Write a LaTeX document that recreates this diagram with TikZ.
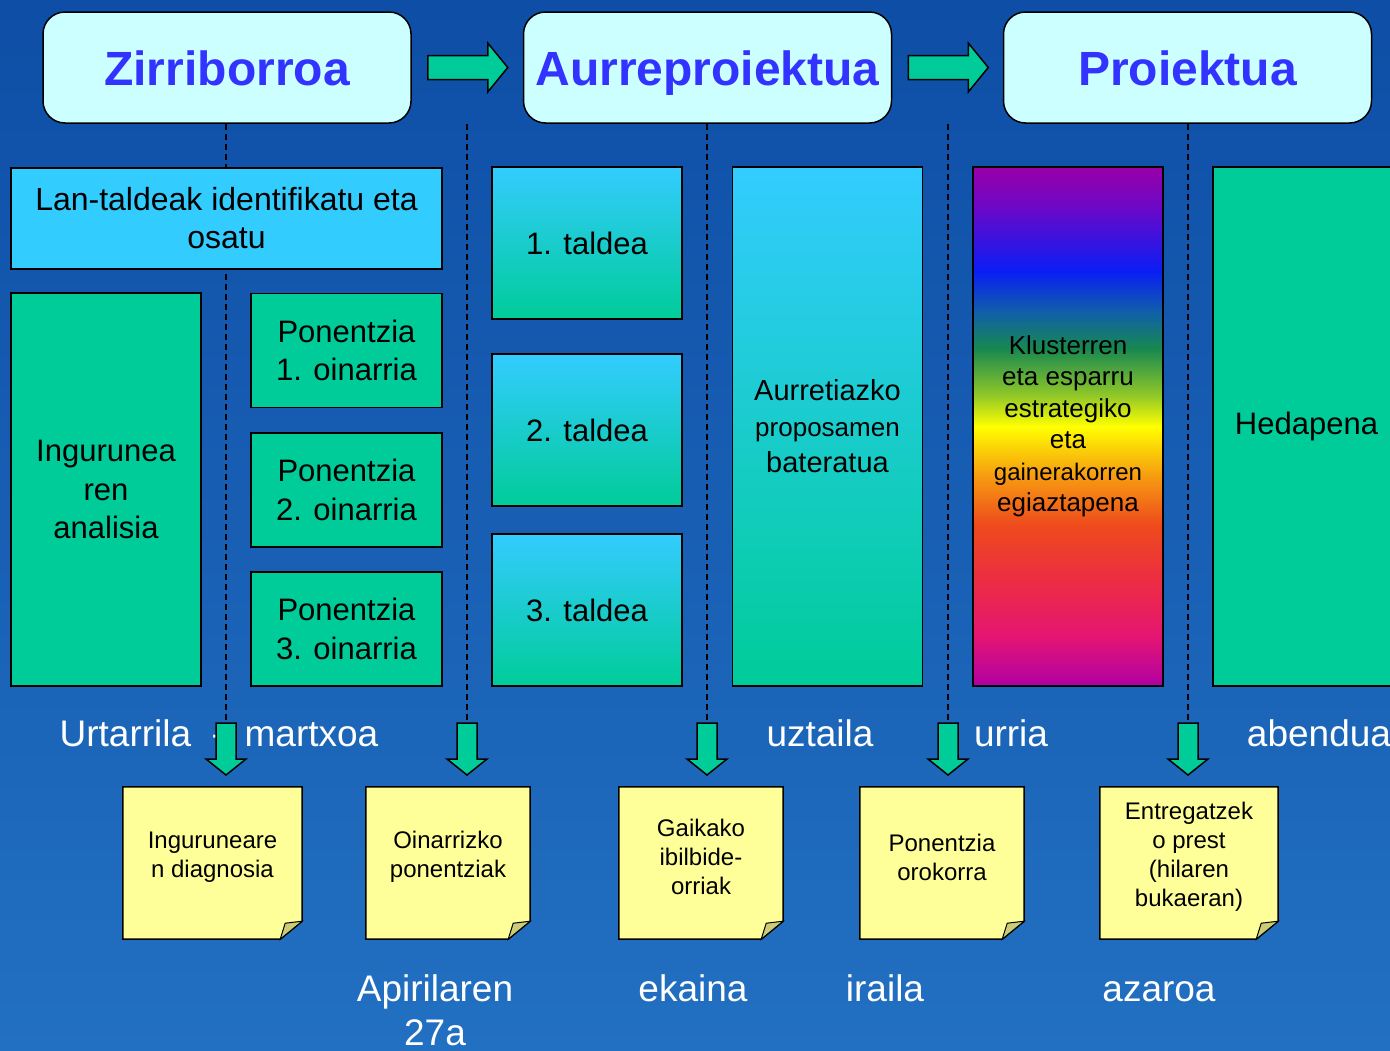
\documentclass[tikz,border=0pt]{standalone}
\usepackage{fontspec}
\setmainfont{Liberation Sans}
\usetikzlibrary{positioning,calc}

\definecolor{cHeadFill}{HTML}{CCFFFF}
\definecolor{cHeadText}{HTML}{3333FF}
\definecolor{cGreen}{HTML}{00CC99}
\definecolor{cCyan}{HTML}{33CCFF}
\definecolor{cNote}{HTML}{FFFF99}
\definecolor{cFold}{HTML}{CCCC77}
\definecolor{cBgTop}{HTML}{0E4EA6}
\definecolor{cBgMid}{HTML}{2E82CC}
\definecolor{cBgBot}{HTML}{2270C2}
% rainbow stops
\definecolor{rb0}{HTML}{9A00A8}
\definecolor{rb1}{HTML}{6A08C8}
\definecolor{rb2}{HTML}{0A1EF5}
\definecolor{rb3}{HTML}{1060A8}
\definecolor{rb4}{HTML}{188850}
\definecolor{rb5}{HTML}{90C828}
\definecolor{rb6}{HTML}{FFFF00}
\definecolor{rb7}{HTML}{F7A010}
\definecolor{rb8}{HTML}{EE4A1C}
\definecolor{rb9}{HTML}{EC2C44}
\definecolor{rb10}{HTML}{E61670}
\definecolor{rb11}{HTML}{B000A4}
\pgfdeclareverticalshading{rainbow}{100bp}{color(0bp)=(rb11); color(25bp)=(rb11); color(30bp)=(rb10); color(35bp)=(rb9); color(40.5bp)=(rb8); color(45.5bp)=(rb7); color(50bp)=(rb6); color(53bp)=(rb5); color(57.5bp)=(rb4); color(61bp)=(rb3); color(65bp)=(rb2); color(71bp)=(rb1); color(75bp)=(rb0); color(100bp)=(rb0)}

\pgfdeclarelayer{back}
\pgfdeclarelayer{mid}
\pgfsetlayers{back,mid,main}

\tikzset{
  headbox/.style={draw, line width=1.5pt, rounded corners=22pt, fill=cHeadFill, text=cHeadText,
    minimum width=368pt, minimum height=111pt, text height=36pt, text depth=0pt,
    font=\fontsize{48}{58}\selectfont\bfseries},
  phasebox/.style={draw, line width=1.5pt, fill=cGreen, align=center, inner sep=0pt,
    font=\fontsize{31}{38.5}\selectfont},
  teambox/.style={phasebox, top color=cCyan, bottom color=cGreen, minimum width=190pt, minimum height=152pt},
  basebox/.style={phasebox, minimum width=191pt, minimum height=114pt},
  tallbox/.style={phasebox, minimum width=190pt, minimum height=519pt},
  notebox/.style={align=center, inner sep=0pt, minimum height=152pt, font=\fontsize{24}{29}\selectfont},
  notecard/.style={draw, line width=1.5pt, fill=cNote, line join=miter},
  notefold/.style={draw, line width=1pt, fill=cFold},
  datelabel/.style={text=white, align=center, inner sep=0pt, font=\fontsize{37}{44}\selectfont},
  dateone/.style={datelabel, text height=27pt, text depth=0pt},
  blockarrow/.style={draw, line width=1.5pt, fill=cGreen, line join=miter},
  timeline/.style={line width=1.2pt, dash pattern=on 6pt off 4pt}
}

\begin{document}
\begin{tikzpicture}[x=1pt,y=-1pt]
  \useasboundingbox (0,0) rectangle (1390,1050);
  \clip (0,0) rectangle (1390,1050);
  \begin{pgfonlayer}{back}
    \fill[top color=cBgTop, middle color=cBgMid, bottom color=cBgBot] (0,0) rectangle (1390,1050);
  \end{pgfonlayer}

  % Faseak
  \node[headbox] (zirri) at (227,67.5) {Zirriborroa};
  \node[headbox] (aurre) at (707.5,67.5) {Aurreproiektua};
  \node[headbox] (proi) at (1187.5,67.5) {Proiektua};
  \foreach \n in {zirri,aurre}
    \draw[blockarrow] ($(\n.east)+(16,-12)$) -- ++(60,0) -- ++(0,-12.5) -- ++(20,24.5)
      -- ++(-20,24.5) -- ++(0,-12.5) -- ++(-60,0) -- cycle;

  % Muga-lerroak
  \foreach \lx in {226,467,707,948,1188}
    \draw[timeline] (\lx,124) -- (\lx,723);

  % Lan-taldeak
  \node[phasebox, fill=cCyan, minimum width=431pt, minimum height=101pt,
    font=\fontsize{32}{38}\selectfont] (lan) at (226.5,218.5) {Lan-taldeak identifikatu eta\\osatu};
  \node[phasebox, minimum width=190pt, minimum height=393pt] (ingur) at (106,489.5) {Ingurunea\\ren\\analisia};
  \node[basebox] (pon1) at (346.5,350.5) {Ponentzia\\1. oinarria};
  \node[basebox] (pon2) at (346.5,490) {Ponentzia\\2. oinarria};
  \node[basebox] (pon3) at (346.5,629) {Ponentzia\\3. oinarria};
  \node[teambox] (talde1) at (587,243) {1. taldea};
  \node[teambox] (talde2) at (587,430) {2. taldea};
  \node[teambox] (talde3) at (587,610) {3. taldea};
  \node[tallbox, top color=cCyan, bottom color=cGreen, font=\fontsize{29}{36}\selectfont] (aurret)
    at (827.5,426.5) {Aurretiazko\\{\fontsize{26}{36}\selectfont proposamen}\\bateratua};
  \node[tallbox, shade, shading=rainbow, font=\fontsize{26}{31.5}\selectfont] (kluster) at (1068,426.5)
    {Klusterren\\eta esparru\\estrategiko\\eta\\{\fontsize{24}{31.5}\selectfont gainerakorren}\\egiaztapena};
  \node[tallbox, minimum width=187pt] (hedap) at (1306.5,426.5) {Hedapena};

  % Datak
  \node[dateone] (urt) at (219,733) {Urtarrila\ \ -\ \ martxoa};
  \node[dateone] (uzt) at (820,733) {uztaila};
  \node[dateone] (urr) at (1011,733) {urria};
  \node[dateone] (abend) at (1319,733) {abendua};
  \node[datelabel] (apir) at (435,1010) {Apirilaren\\27a};
  \node[dateone] (ekain) at (693,988) {ekaina};
  \node[dateone] (irail) at (885,988) {iraila};
  \node[dateone] (azaro) at (1159,988) {azaroa};

  % Gezi beheranzkoak
  \foreach \lx in {226,467,707,948,1188}
    \draw[blockarrow] (\lx-10,723) -- (\lx+10,723) -- (\lx+10,759) -- (\lx+20,759)
      -- (\lx,775) -- (\lx-20,759) -- (\lx-10,759) -- cycle;

  % Emaitzak
  \node[notebox, minimum width=179pt] (diag) at (212.5,857) {Inguruneare\\n diagnosia};
  \node[notebox, minimum width=164pt] (oinar) at (448,857) {Oinarrizko\\ponentziak};
  \node[notebox, minimum width=164pt] (gaik) at (701,857) {Gaikako\\ibilbide-\\orriak};
  \node[notebox, minimum width=164pt] (ponor) at (942,857) {Ponentzia\\orokorra};
  \node[notebox, minimum width=178pt] (entreg) at (1189,857) {Entregatzek\\o prest\\(hilaren\\bukaeran)};
  \begin{pgfonlayer}{mid}
    \foreach \n in {diag,oinar,gaik,ponor,entreg}{
      \draw[notecard] ($(\n.north west)+(0,6)$) -- ($(\n.north east)+(0,6)$) -- ($(\n.south east)+(0,-12)$)
        -- ($(\n.south east)+(-22,6)$) -- ($(\n.south west)+(0,6)$) -- cycle;
      \draw[notefold] ($(\n.south east)+(-22,6)$) .. controls ($(\n.south east)+(-20,-2)$) ..
        ($(\n.south east)+(-17,-10)$) -- ($(\n.south east)+(0,-12)$) -- cycle;
    }
  \end{pgfonlayer}
\end{tikzpicture}
\end{document}
